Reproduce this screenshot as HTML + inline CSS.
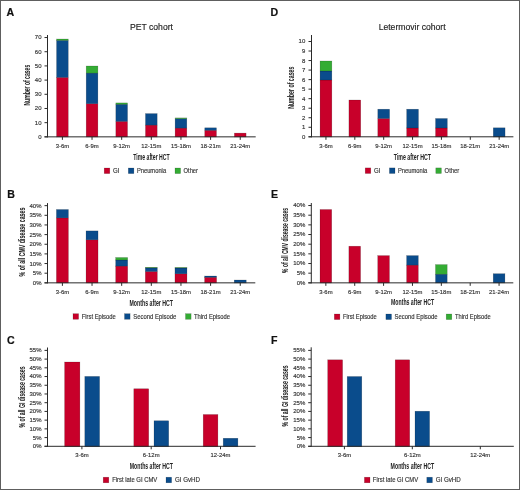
<!DOCTYPE html>
<html><head><meta charset="utf-8"><style>
html,body{margin:0;padding:0;background:#fff;}
body{width:520px;height:490px;overflow:hidden;}
svg{display:block;}
#w{will-change:transform;width:520px;height:490px;}
text{font-family:"Liberation Sans",sans-serif;}
</style></head><body>
<div id="w"><svg width="520" height="490" viewBox="0 0 520 490">
<rect x="0" y="0" width="520" height="490" fill="#fff"/>
<text x="6.6" y="15.8" font-size="10.6" text-anchor="start" fill="#111" font-weight="bold" stroke="#111" stroke-width="0.2">A</text>
<text x="270.4" y="15.9" font-size="10.6" text-anchor="start" fill="#111" font-weight="bold" stroke="#111" stroke-width="0.2">D</text>
<text x="7.2" y="197.9" font-size="10.6" text-anchor="start" fill="#111" font-weight="bold" stroke="#111" stroke-width="0.2">B</text>
<text x="271" y="198.0" font-size="10.6" text-anchor="start" fill="#111" font-weight="bold" stroke="#111" stroke-width="0.2">E</text>
<text x="6.9" y="343.8" font-size="10.6" text-anchor="start" fill="#111" font-weight="bold" stroke="#111" stroke-width="0.2">C</text>
<text x="271.1" y="343.8" font-size="10.6" text-anchor="start" fill="#111" font-weight="bold" stroke="#111" stroke-width="0.2">F</text>
<text x="151.5" y="29.7" font-size="8.7" text-anchor="middle" fill="#222" font-weight="normal" textLength="43" lengthAdjust="spacingAndGlyphs" stroke="#222" stroke-width="0.15">PET cohort</text>
<text x="41.5" y="138.79999999999998" font-size="6.0" text-anchor="end" fill="#333" font-weight="normal" stroke="#333" stroke-width="0.15">0</text>
<text x="41.5" y="124.613" font-size="6.0" text-anchor="end" fill="#333" font-weight="normal" stroke="#333" stroke-width="0.15">10</text>
<text x="41.5" y="110.426" font-size="6.0" text-anchor="end" fill="#333" font-weight="normal" stroke="#333" stroke-width="0.15">20</text>
<text x="41.5" y="96.23899999999999" font-size="6.0" text-anchor="end" fill="#333" font-weight="normal" stroke="#333" stroke-width="0.15">30</text>
<text x="41.5" y="82.05199999999999" font-size="6.0" text-anchor="end" fill="#333" font-weight="normal" stroke="#333" stroke-width="0.15">40</text>
<text x="41.5" y="67.865" font-size="6.0" text-anchor="end" fill="#333" font-weight="normal" stroke="#333" stroke-width="0.15">50</text>
<text x="41.5" y="53.678" font-size="6.0" text-anchor="end" fill="#333" font-weight="normal" stroke="#333" stroke-width="0.15">60</text>
<text x="41.5" y="39.490999999999985" font-size="6.0" text-anchor="end" fill="#333" font-weight="normal" stroke="#333" stroke-width="0.15">70</text>
<text x="62.4" y="148.1" font-size="5.9" text-anchor="middle" fill="#333" font-weight="normal" stroke="#333" stroke-width="0.15">3-6m</text>
<text x="92.03999999999999" y="148.1" font-size="5.9" text-anchor="middle" fill="#333" font-weight="normal" stroke="#333" stroke-width="0.15">6-9m</text>
<text x="121.68" y="148.1" font-size="5.9" text-anchor="middle" fill="#333" font-weight="normal" stroke="#333" stroke-width="0.15">9-12m</text>
<text x="151.32" y="148.1" font-size="5.9" text-anchor="middle" fill="#333" font-weight="normal" stroke="#333" stroke-width="0.15">12-15m</text>
<text x="180.96" y="148.1" font-size="5.9" text-anchor="middle" fill="#333" font-weight="normal" stroke="#333" stroke-width="0.15">15-18m</text>
<text x="210.6" y="148.1" font-size="5.9" text-anchor="middle" fill="#333" font-weight="normal" stroke="#333" stroke-width="0.15">18-21m</text>
<text x="240.24" y="148.1" font-size="5.9" text-anchor="middle" fill="#333" font-weight="normal" stroke="#333" stroke-width="0.15">21-24m</text>
<rect x="56.55" y="77.40" width="11.70" height="59.60" fill="#c8002a" stroke="#000" stroke-opacity="0.3" stroke-width="0.5"/>
<rect x="56.55" y="40.40" width="11.70" height="37.00" fill="#0a4c8c" stroke="#000" stroke-opacity="0.3" stroke-width="0.5"/>
<rect x="56.55" y="39.00" width="11.70" height="1.40" fill="#34ac34" stroke="#000" stroke-opacity="0.3" stroke-width="0.5"/>
<rect x="86.19" y="103.70" width="11.70" height="33.30" fill="#c8002a" stroke="#000" stroke-opacity="0.3" stroke-width="0.5"/>
<rect x="86.19" y="73.10" width="11.70" height="30.60" fill="#0a4c8c" stroke="#000" stroke-opacity="0.3" stroke-width="0.5"/>
<rect x="86.19" y="66.00" width="11.70" height="7.10" fill="#34ac34" stroke="#000" stroke-opacity="0.3" stroke-width="0.5"/>
<rect x="115.83" y="121.40" width="11.70" height="15.60" fill="#c8002a" stroke="#000" stroke-opacity="0.3" stroke-width="0.5"/>
<rect x="115.83" y="104.30" width="11.70" height="17.10" fill="#0a4c8c" stroke="#000" stroke-opacity="0.3" stroke-width="0.5"/>
<rect x="115.83" y="102.90" width="11.70" height="1.40" fill="#34ac34" stroke="#000" stroke-opacity="0.3" stroke-width="0.5"/>
<rect x="145.47" y="125.10" width="11.70" height="11.90" fill="#c8002a" stroke="#000" stroke-opacity="0.3" stroke-width="0.5"/>
<rect x="145.47" y="113.60" width="11.70" height="11.50" fill="#0a4c8c" stroke="#000" stroke-opacity="0.3" stroke-width="0.5"/>
<rect x="175.11" y="128.10" width="11.70" height="8.90" fill="#c8002a" stroke="#000" stroke-opacity="0.3" stroke-width="0.5"/>
<rect x="175.11" y="118.70" width="11.70" height="9.40" fill="#0a4c8c" stroke="#000" stroke-opacity="0.3" stroke-width="0.5"/>
<rect x="175.11" y="117.90" width="11.70" height="0.80" fill="#34ac34" stroke="#000" stroke-opacity="0.3" stroke-width="0.5"/>
<rect x="204.75" y="130.30" width="11.70" height="6.70" fill="#c8002a" stroke="#000" stroke-opacity="0.3" stroke-width="0.5"/>
<rect x="204.75" y="127.80" width="11.70" height="2.50" fill="#0a4c8c" stroke="#000" stroke-opacity="0.3" stroke-width="0.5"/>
<rect x="234.39" y="133.10" width="11.70" height="3.90" fill="#c8002a" stroke="#000" stroke-opacity="0.3" stroke-width="0.5"/>
<text transform="translate(29.7,85.2) rotate(-90)" x="0" y="0" font-size="8.6" text-anchor="middle" fill="#222" font-weight="bold" textLength="40.8" lengthAdjust="spacingAndGlyphs" stroke="#222" stroke-width="0.05">Number of cases</text>
<text x="151.45" y="159.6" font-size="8.3" text-anchor="middle" fill="#222" font-weight="bold" textLength="36.5" lengthAdjust="spacingAndGlyphs">Time after HCT</text>
<rect x="104.20" y="168.00" width="5.60" height="5.60" fill="#c8002a" stroke="#000" stroke-opacity="0.3" stroke-width="0.5"/>
<text x="113.0" y="173.2" font-size="6.5" text-anchor="start" fill="#333" font-weight="normal" textLength="6.4" lengthAdjust="spacingAndGlyphs" stroke="#333" stroke-width="0.15">GI</text>
<rect x="128.30" y="168.00" width="5.60" height="5.60" fill="#0a4c8c" stroke="#000" stroke-opacity="0.3" stroke-width="0.5"/>
<text x="136.9" y="173.2" font-size="6.5" text-anchor="start" fill="#333" font-weight="normal" textLength="29.2" lengthAdjust="spacingAndGlyphs" stroke="#333" stroke-width="0.15">Pneumonia</text>
<rect x="175.00" y="168.00" width="5.60" height="5.60" fill="#34ac34" stroke="#000" stroke-opacity="0.3" stroke-width="0.5"/>
<text x="183.6" y="173.2" font-size="6.5" text-anchor="start" fill="#333" font-weight="normal" textLength="14.4" lengthAdjust="spacingAndGlyphs" stroke="#333" stroke-width="0.15">Other</text>
<text x="412.15" y="29.8" font-size="8.7" text-anchor="middle" fill="#222" font-weight="normal" textLength="67" lengthAdjust="spacingAndGlyphs" stroke="#222" stroke-width="0.15">Letermovir cohort</text>
<text x="305.3" y="138.75" font-size="6.0" text-anchor="end" fill="#333" font-weight="normal" stroke="#333" stroke-width="0.15">0</text>
<text x="305.3" y="129.22" font-size="6.0" text-anchor="end" fill="#333" font-weight="normal" stroke="#333" stroke-width="0.15">1</text>
<text x="305.3" y="119.69000000000001" font-size="6.0" text-anchor="end" fill="#333" font-weight="normal" stroke="#333" stroke-width="0.15">2</text>
<text x="305.3" y="110.16000000000001" font-size="6.0" text-anchor="end" fill="#333" font-weight="normal" stroke="#333" stroke-width="0.15">3</text>
<text x="305.3" y="100.63000000000001" font-size="6.0" text-anchor="end" fill="#333" font-weight="normal" stroke="#333" stroke-width="0.15">4</text>
<text x="305.3" y="91.10000000000001" font-size="6.0" text-anchor="end" fill="#333" font-weight="normal" stroke="#333" stroke-width="0.15">5</text>
<text x="305.3" y="81.57000000000002" font-size="6.0" text-anchor="end" fill="#333" font-weight="normal" stroke="#333" stroke-width="0.15">6</text>
<text x="305.3" y="72.04000000000002" font-size="6.0" text-anchor="end" fill="#333" font-weight="normal" stroke="#333" stroke-width="0.15">7</text>
<text x="305.3" y="62.51000000000002" font-size="6.0" text-anchor="end" fill="#333" font-weight="normal" stroke="#333" stroke-width="0.15">8</text>
<text x="305.3" y="52.98000000000002" font-size="6.0" text-anchor="end" fill="#333" font-weight="normal" stroke="#333" stroke-width="0.15">9</text>
<text x="305.3" y="43.45000000000002" font-size="6.0" text-anchor="end" fill="#333" font-weight="normal" stroke="#333" stroke-width="0.15">10</text>
<text x="325.95" y="148.1" font-size="5.9" text-anchor="middle" fill="#333" font-weight="normal" stroke="#333" stroke-width="0.15">3-6m</text>
<text x="354.82" y="148.1" font-size="5.9" text-anchor="middle" fill="#333" font-weight="normal" stroke="#333" stroke-width="0.15">6-9m</text>
<text x="383.69" y="148.1" font-size="5.9" text-anchor="middle" fill="#333" font-weight="normal" stroke="#333" stroke-width="0.15">9-12m</text>
<text x="412.56" y="148.1" font-size="5.9" text-anchor="middle" fill="#333" font-weight="normal" stroke="#333" stroke-width="0.15">12-15m</text>
<text x="441.43" y="148.1" font-size="5.9" text-anchor="middle" fill="#333" font-weight="normal" stroke="#333" stroke-width="0.15">15-18m</text>
<text x="470.29999999999995" y="148.1" font-size="5.9" text-anchor="middle" fill="#333" font-weight="normal" stroke="#333" stroke-width="0.15">18-21m</text>
<text x="499.16999999999996" y="148.1" font-size="5.9" text-anchor="middle" fill="#333" font-weight="normal" stroke="#333" stroke-width="0.15">21-24m</text>
<rect x="320.05" y="80.00" width="11.80" height="57.00" fill="#c8002a" stroke="#000" stroke-opacity="0.3" stroke-width="0.5"/>
<rect x="320.05" y="71.00" width="11.80" height="9.00" fill="#0a4c8c" stroke="#000" stroke-opacity="0.3" stroke-width="0.5"/>
<rect x="320.05" y="61.00" width="11.80" height="10.00" fill="#34ac34" stroke="#000" stroke-opacity="0.3" stroke-width="0.5"/>
<rect x="348.92" y="100.00" width="11.80" height="37.00" fill="#c8002a" stroke="#000" stroke-opacity="0.3" stroke-width="0.5"/>
<rect x="377.79" y="118.50" width="11.80" height="18.50" fill="#c8002a" stroke="#000" stroke-opacity="0.3" stroke-width="0.5"/>
<rect x="377.79" y="109.20" width="11.80" height="9.30" fill="#0a4c8c" stroke="#000" stroke-opacity="0.3" stroke-width="0.5"/>
<rect x="406.66" y="128.00" width="11.80" height="9.00" fill="#c8002a" stroke="#000" stroke-opacity="0.3" stroke-width="0.5"/>
<rect x="406.66" y="109.20" width="11.80" height="18.80" fill="#0a4c8c" stroke="#000" stroke-opacity="0.3" stroke-width="0.5"/>
<rect x="435.53" y="128.00" width="11.80" height="9.00" fill="#c8002a" stroke="#000" stroke-opacity="0.3" stroke-width="0.5"/>
<rect x="435.53" y="118.50" width="11.80" height="9.50" fill="#0a4c8c" stroke="#000" stroke-opacity="0.3" stroke-width="0.5"/>
<rect x="493.27" y="127.80" width="11.80" height="9.20" fill="#0a4c8c" stroke="#000" stroke-opacity="0.3" stroke-width="0.5"/>
<text transform="translate(293.7,87.7) rotate(-90)" x="0" y="0" font-size="8.6" text-anchor="middle" fill="#222" font-weight="bold" textLength="42.3" lengthAdjust="spacingAndGlyphs" stroke="#222" stroke-width="0.05">Number of cases</text>
<text x="412.35" y="159.7" font-size="8.3" text-anchor="middle" fill="#222" font-weight="bold" textLength="37.1" lengthAdjust="spacingAndGlyphs">Time after HCT</text>
<rect x="365.20" y="167.90" width="5.60" height="5.60" fill="#c8002a" stroke="#000" stroke-opacity="0.3" stroke-width="0.5"/>
<text x="374.1" y="173.3" font-size="6.5" text-anchor="start" fill="#333" font-weight="normal" textLength="6.4" lengthAdjust="spacingAndGlyphs" stroke="#333" stroke-width="0.15">GI</text>
<rect x="389.40" y="167.90" width="5.60" height="5.60" fill="#0a4c8c" stroke="#000" stroke-opacity="0.3" stroke-width="0.5"/>
<text x="398.0" y="173.3" font-size="6.5" text-anchor="start" fill="#333" font-weight="normal" textLength="29.2" lengthAdjust="spacingAndGlyphs" stroke="#333" stroke-width="0.15">Pneumonia</text>
<rect x="435.80" y="167.90" width="5.60" height="5.60" fill="#34ac34" stroke="#000" stroke-opacity="0.3" stroke-width="0.5"/>
<text x="444.6" y="173.3" font-size="6.5" text-anchor="start" fill="#333" font-weight="normal" textLength="14.6" lengthAdjust="spacingAndGlyphs" stroke="#333" stroke-width="0.15">Other</text>
<text x="41.5" y="284.8" font-size="6.0" text-anchor="end" fill="#333" font-weight="normal" stroke="#333" stroke-width="0.15">0%</text>
<text x="41.5" y="275.15000000000003" font-size="6.0" text-anchor="end" fill="#333" font-weight="normal" stroke="#333" stroke-width="0.15">5%</text>
<text x="41.5" y="265.5" font-size="6.0" text-anchor="end" fill="#333" font-weight="normal" stroke="#333" stroke-width="0.15">10%</text>
<text x="41.5" y="255.85000000000002" font-size="6.0" text-anchor="end" fill="#333" font-weight="normal" stroke="#333" stroke-width="0.15">15%</text>
<text x="41.5" y="246.20000000000002" font-size="6.0" text-anchor="end" fill="#333" font-weight="normal" stroke="#333" stroke-width="0.15">20%</text>
<text x="41.5" y="236.55" font-size="6.0" text-anchor="end" fill="#333" font-weight="normal" stroke="#333" stroke-width="0.15">25%</text>
<text x="41.5" y="226.9" font-size="6.0" text-anchor="end" fill="#333" font-weight="normal" stroke="#333" stroke-width="0.15">30%</text>
<text x="41.5" y="217.25" font-size="6.0" text-anchor="end" fill="#333" font-weight="normal" stroke="#333" stroke-width="0.15">35%</text>
<text x="41.5" y="207.60000000000002" font-size="6.0" text-anchor="end" fill="#333" font-weight="normal" stroke="#333" stroke-width="0.15">40%</text>
<text x="62.4" y="294.4" font-size="5.9" text-anchor="middle" fill="#333" font-weight="normal" stroke="#333" stroke-width="0.15">3-6m</text>
<text x="92.03999999999999" y="294.4" font-size="5.9" text-anchor="middle" fill="#333" font-weight="normal" stroke="#333" stroke-width="0.15">6-9m</text>
<text x="121.68" y="294.4" font-size="5.9" text-anchor="middle" fill="#333" font-weight="normal" stroke="#333" stroke-width="0.15">9-12m</text>
<text x="151.32" y="294.4" font-size="5.9" text-anchor="middle" fill="#333" font-weight="normal" stroke="#333" stroke-width="0.15">12-15m</text>
<text x="180.96" y="294.4" font-size="5.9" text-anchor="middle" fill="#333" font-weight="normal" stroke="#333" stroke-width="0.15">15-18m</text>
<text x="210.6" y="294.4" font-size="5.9" text-anchor="middle" fill="#333" font-weight="normal" stroke="#333" stroke-width="0.15">18-21m</text>
<text x="240.24" y="294.4" font-size="5.9" text-anchor="middle" fill="#333" font-weight="normal" stroke="#333" stroke-width="0.15">21-24m</text>
<rect x="56.40" y="217.90" width="12.00" height="65.10" fill="#c8002a" stroke="#000" stroke-opacity="0.3" stroke-width="0.5"/>
<rect x="56.40" y="209.50" width="12.00" height="8.40" fill="#0a4c8c" stroke="#000" stroke-opacity="0.3" stroke-width="0.5"/>
<rect x="86.04" y="239.80" width="12.00" height="43.20" fill="#c8002a" stroke="#000" stroke-opacity="0.3" stroke-width="0.5"/>
<rect x="86.04" y="230.90" width="12.00" height="8.90" fill="#0a4c8c" stroke="#000" stroke-opacity="0.3" stroke-width="0.5"/>
<rect x="115.68" y="266.10" width="12.00" height="16.90" fill="#c8002a" stroke="#000" stroke-opacity="0.3" stroke-width="0.5"/>
<rect x="115.68" y="260.00" width="12.00" height="6.10" fill="#0a4c8c" stroke="#000" stroke-opacity="0.3" stroke-width="0.5"/>
<rect x="115.68" y="257.50" width="12.00" height="2.50" fill="#34ac34" stroke="#000" stroke-opacity="0.3" stroke-width="0.5"/>
<rect x="145.32" y="271.50" width="12.00" height="11.50" fill="#c8002a" stroke="#000" stroke-opacity="0.3" stroke-width="0.5"/>
<rect x="145.32" y="267.90" width="12.00" height="3.60" fill="#0a4c8c" stroke="#000" stroke-opacity="0.3" stroke-width="0.5"/>
<rect x="145.32" y="267.30" width="12.00" height="0.60" fill="#34ac34" stroke="#000" stroke-opacity="0.3" stroke-width="0.5"/>
<rect x="174.96" y="273.80" width="12.00" height="9.20" fill="#c8002a" stroke="#000" stroke-opacity="0.3" stroke-width="0.5"/>
<rect x="174.96" y="268.00" width="12.00" height="5.80" fill="#0a4c8c" stroke="#000" stroke-opacity="0.3" stroke-width="0.5"/>
<rect x="174.96" y="267.50" width="12.00" height="0.50" fill="#34ac34" stroke="#000" stroke-opacity="0.3" stroke-width="0.5"/>
<rect x="204.60" y="277.30" width="12.00" height="5.70" fill="#c8002a" stroke="#000" stroke-opacity="0.3" stroke-width="0.5"/>
<rect x="204.60" y="276.00" width="12.00" height="1.30" fill="#0a4c8c" stroke="#000" stroke-opacity="0.3" stroke-width="0.5"/>
<rect x="234.24" y="280.00" width="12.00" height="3.00" fill="#0a4c8c" stroke="#000" stroke-opacity="0.3" stroke-width="0.5"/>
<text transform="translate(24.7,242.0) rotate(-90)" x="0" y="0" font-size="8.3" text-anchor="middle" fill="#222" font-weight="bold" textLength="68.8" lengthAdjust="spacingAndGlyphs" stroke="#222" stroke-width="0.05">% of all CMV disease cases</text>
<text x="151.25" y="305.5" font-size="8.3" text-anchor="middle" fill="#222" font-weight="bold" textLength="43.5" lengthAdjust="spacingAndGlyphs">Months after HCT</text>
<rect x="73.00" y="313.70" width="5.60" height="5.60" fill="#c8002a" stroke="#000" stroke-opacity="0.3" stroke-width="0.5"/>
<text x="81.7" y="319.0" font-size="6.5" text-anchor="start" fill="#333" font-weight="normal" textLength="34.1" lengthAdjust="spacingAndGlyphs" stroke="#333" stroke-width="0.15">First Episode</text>
<rect x="124.50" y="313.70" width="5.60" height="5.60" fill="#0a4c8c" stroke="#000" stroke-opacity="0.3" stroke-width="0.5"/>
<text x="133.3" y="319.0" font-size="6.5" text-anchor="start" fill="#333" font-weight="normal" textLength="43.0" lengthAdjust="spacingAndGlyphs" stroke="#333" stroke-width="0.15">Second Episode</text>
<rect x="185.50" y="313.70" width="5.60" height="5.60" fill="#34ac34" stroke="#000" stroke-opacity="0.3" stroke-width="0.5"/>
<text x="194.0" y="319.0" font-size="6.5" text-anchor="start" fill="#333" font-weight="normal" textLength="36.0" lengthAdjust="spacingAndGlyphs" stroke="#333" stroke-width="0.15">Third Episode</text>
<text x="305.3" y="284.8" font-size="6.0" text-anchor="end" fill="#333" font-weight="normal" stroke="#333" stroke-width="0.15">0%</text>
<text x="305.3" y="275.135" font-size="6.0" text-anchor="end" fill="#333" font-weight="normal" stroke="#333" stroke-width="0.15">5%</text>
<text x="305.3" y="265.47" font-size="6.0" text-anchor="end" fill="#333" font-weight="normal" stroke="#333" stroke-width="0.15">10%</text>
<text x="305.3" y="255.805" font-size="6.0" text-anchor="end" fill="#333" font-weight="normal" stroke="#333" stroke-width="0.15">15%</text>
<text x="305.3" y="246.14000000000001" font-size="6.0" text-anchor="end" fill="#333" font-weight="normal" stroke="#333" stroke-width="0.15">20%</text>
<text x="305.3" y="236.47500000000002" font-size="6.0" text-anchor="end" fill="#333" font-weight="normal" stroke="#333" stroke-width="0.15">25%</text>
<text x="305.3" y="226.81" font-size="6.0" text-anchor="end" fill="#333" font-weight="normal" stroke="#333" stroke-width="0.15">30%</text>
<text x="305.3" y="217.145" font-size="6.0" text-anchor="end" fill="#333" font-weight="normal" stroke="#333" stroke-width="0.15">35%</text>
<text x="305.3" y="207.48000000000002" font-size="6.0" text-anchor="end" fill="#333" font-weight="normal" stroke="#333" stroke-width="0.15">40%</text>
<text x="325.85" y="294.4" font-size="5.9" text-anchor="middle" fill="#333" font-weight="normal" stroke="#333" stroke-width="0.15">3-6m</text>
<text x="354.72" y="294.4" font-size="5.9" text-anchor="middle" fill="#333" font-weight="normal" stroke="#333" stroke-width="0.15">6-9m</text>
<text x="383.59000000000003" y="294.4" font-size="5.9" text-anchor="middle" fill="#333" font-weight="normal" stroke="#333" stroke-width="0.15">9-12m</text>
<text x="412.46000000000004" y="294.4" font-size="5.9" text-anchor="middle" fill="#333" font-weight="normal" stroke="#333" stroke-width="0.15">12-15m</text>
<text x="441.33000000000004" y="294.4" font-size="5.9" text-anchor="middle" fill="#333" font-weight="normal" stroke="#333" stroke-width="0.15">15-18m</text>
<text x="470.20000000000005" y="294.4" font-size="5.9" text-anchor="middle" fill="#333" font-weight="normal" stroke="#333" stroke-width="0.15">18-21m</text>
<text x="499.07000000000005" y="294.4" font-size="5.9" text-anchor="middle" fill="#333" font-weight="normal" stroke="#333" stroke-width="0.15">21-24m</text>
<rect x="320.00" y="209.50" width="11.70" height="73.50" fill="#c8002a" stroke="#000" stroke-opacity="0.3" stroke-width="0.5"/>
<rect x="348.87" y="246.20" width="11.70" height="36.80" fill="#c8002a" stroke="#000" stroke-opacity="0.3" stroke-width="0.5"/>
<rect x="377.74" y="255.60" width="11.70" height="27.40" fill="#c8002a" stroke="#000" stroke-opacity="0.3" stroke-width="0.5"/>
<rect x="406.61" y="265.10" width="11.70" height="17.90" fill="#c8002a" stroke="#000" stroke-opacity="0.3" stroke-width="0.5"/>
<rect x="406.61" y="255.60" width="11.70" height="9.50" fill="#0a4c8c" stroke="#000" stroke-opacity="0.3" stroke-width="0.5"/>
<rect x="435.48" y="274.20" width="11.70" height="8.80" fill="#0a4c8c" stroke="#000" stroke-opacity="0.3" stroke-width="0.5"/>
<rect x="435.48" y="264.60" width="11.70" height="9.60" fill="#34ac34" stroke="#000" stroke-opacity="0.3" stroke-width="0.5"/>
<rect x="493.22" y="273.70" width="11.70" height="9.30" fill="#0a4c8c" stroke="#000" stroke-opacity="0.3" stroke-width="0.5"/>
<text transform="translate(288.0,240.4) rotate(-90)" x="0" y="0" font-size="8.3" text-anchor="middle" fill="#222" font-weight="bold" textLength="65.1" lengthAdjust="spacingAndGlyphs" stroke="#222" stroke-width="0.05">% of all CMV disease cases</text>
<text x="412.6" y="305.4" font-size="8.3" text-anchor="middle" fill="#222" font-weight="bold" textLength="43.2" lengthAdjust="spacingAndGlyphs">Months after HCT</text>
<rect x="334.30" y="314.00" width="5.60" height="5.60" fill="#c8002a" stroke="#000" stroke-opacity="0.3" stroke-width="0.5"/>
<text x="343.0" y="319.2" font-size="6.5" text-anchor="start" fill="#333" font-weight="normal" textLength="33.7" lengthAdjust="spacingAndGlyphs" stroke="#333" stroke-width="0.15">First Episode</text>
<rect x="385.90" y="314.00" width="5.60" height="5.60" fill="#0a4c8c" stroke="#000" stroke-opacity="0.3" stroke-width="0.5"/>
<text x="394.6" y="319.2" font-size="6.5" text-anchor="start" fill="#333" font-weight="normal" textLength="43.0" lengthAdjust="spacingAndGlyphs" stroke="#333" stroke-width="0.15">Second Episode</text>
<rect x="446.20" y="314.00" width="5.60" height="5.60" fill="#34ac34" stroke="#000" stroke-opacity="0.3" stroke-width="0.5"/>
<text x="455.1" y="319.2" font-size="6.5" text-anchor="start" fill="#333" font-weight="normal" textLength="35.5" lengthAdjust="spacingAndGlyphs" stroke="#333" stroke-width="0.15">Third Episode</text>
<text x="41.5" y="448.25" font-size="6.0" text-anchor="end" fill="#333" font-weight="normal" stroke="#333" stroke-width="0.15">0%</text>
<text x="41.5" y="439.53" font-size="6.0" text-anchor="end" fill="#333" font-weight="normal" stroke="#333" stroke-width="0.15">5%</text>
<text x="41.5" y="430.81" font-size="6.0" text-anchor="end" fill="#333" font-weight="normal" stroke="#333" stroke-width="0.15">10%</text>
<text x="41.5" y="422.09" font-size="6.0" text-anchor="end" fill="#333" font-weight="normal" stroke="#333" stroke-width="0.15">15%</text>
<text x="41.5" y="413.37" font-size="6.0" text-anchor="end" fill="#333" font-weight="normal" stroke="#333" stroke-width="0.15">20%</text>
<text x="41.5" y="404.65" font-size="6.0" text-anchor="end" fill="#333" font-weight="normal" stroke="#333" stroke-width="0.15">25%</text>
<text x="41.5" y="395.93" font-size="6.0" text-anchor="end" fill="#333" font-weight="normal" stroke="#333" stroke-width="0.15">30%</text>
<text x="41.5" y="387.21" font-size="6.0" text-anchor="end" fill="#333" font-weight="normal" stroke="#333" stroke-width="0.15">35%</text>
<text x="41.5" y="378.49" font-size="6.0" text-anchor="end" fill="#333" font-weight="normal" stroke="#333" stroke-width="0.15">40%</text>
<text x="41.5" y="369.77" font-size="6.0" text-anchor="end" fill="#333" font-weight="normal" stroke="#333" stroke-width="0.15">45%</text>
<text x="41.5" y="361.05" font-size="6.0" text-anchor="end" fill="#333" font-weight="normal" stroke="#333" stroke-width="0.15">50%</text>
<text x="41.5" y="352.33" font-size="6.0" text-anchor="end" fill="#333" font-weight="normal" stroke="#333" stroke-width="0.15">55%</text>
<text x="81.9" y="457.4" font-size="5.9" text-anchor="middle" fill="#333" font-weight="normal" stroke="#333" stroke-width="0.15">3-6m</text>
<text x="151.2" y="457.4" font-size="5.9" text-anchor="middle" fill="#333" font-weight="normal" stroke="#333" stroke-width="0.15">6-12m</text>
<text x="220.5" y="457.4" font-size="5.9" text-anchor="middle" fill="#333" font-weight="normal" stroke="#333" stroke-width="0.15">12-24m</text>
<rect x="64.60" y="362.00" width="15.30" height="84.80" fill="#c8002a" stroke="#000" stroke-opacity="0.3" stroke-width="0.5"/>
<rect x="84.80" y="376.40" width="14.80" height="70.40" fill="#0a4c8c" stroke="#000" stroke-opacity="0.3" stroke-width="0.5"/>
<rect x="133.80" y="388.75" width="14.90" height="58.05" fill="#c8002a" stroke="#000" stroke-opacity="0.3" stroke-width="0.5"/>
<rect x="154.00" y="420.75" width="14.70" height="26.05" fill="#0a4c8c" stroke="#000" stroke-opacity="0.3" stroke-width="0.5"/>
<rect x="203.20" y="414.50" width="14.70" height="32.30" fill="#c8002a" stroke="#000" stroke-opacity="0.3" stroke-width="0.5"/>
<rect x="223.20" y="438.25" width="14.70" height="8.55" fill="#0a4c8c" stroke="#000" stroke-opacity="0.3" stroke-width="0.5"/>
<text transform="translate(24.6,397.0) rotate(-90)" x="0" y="0" font-size="8.3" text-anchor="middle" fill="#222" font-weight="bold" textLength="61.1" lengthAdjust="spacingAndGlyphs" stroke="#222" stroke-width="0.05">% of all GI disease cases</text>
<text x="151.35" y="469.4" font-size="8.3" text-anchor="middle" fill="#222" font-weight="bold" textLength="43.1" lengthAdjust="spacingAndGlyphs">Months after HCT</text>
<rect x="103.20" y="477.20" width="5.60" height="5.60" fill="#c8002a" stroke="#000" stroke-opacity="0.3" stroke-width="0.5"/>
<text x="112.2" y="482.0" font-size="6.5" text-anchor="start" fill="#333" font-weight="normal" textLength="45.1" lengthAdjust="spacingAndGlyphs" stroke="#333" stroke-width="0.15">First late GI CMV</text>
<rect x="166.00" y="477.20" width="5.60" height="5.60" fill="#0a4c8c" stroke="#000" stroke-opacity="0.3" stroke-width="0.5"/>
<text x="175.0" y="482.0" font-size="6.5" text-anchor="start" fill="#333" font-weight="normal" textLength="25.0" lengthAdjust="spacingAndGlyphs" stroke="#333" stroke-width="0.15">GI GvHD</text>
<text x="305.3" y="448.25" font-size="6.0" text-anchor="end" fill="#333" font-weight="normal" stroke="#333" stroke-width="0.15">0%</text>
<text x="305.3" y="439.53" font-size="6.0" text-anchor="end" fill="#333" font-weight="normal" stroke="#333" stroke-width="0.15">5%</text>
<text x="305.3" y="430.81" font-size="6.0" text-anchor="end" fill="#333" font-weight="normal" stroke="#333" stroke-width="0.15">10%</text>
<text x="305.3" y="422.09" font-size="6.0" text-anchor="end" fill="#333" font-weight="normal" stroke="#333" stroke-width="0.15">15%</text>
<text x="305.3" y="413.37" font-size="6.0" text-anchor="end" fill="#333" font-weight="normal" stroke="#333" stroke-width="0.15">20%</text>
<text x="305.3" y="404.65" font-size="6.0" text-anchor="end" fill="#333" font-weight="normal" stroke="#333" stroke-width="0.15">25%</text>
<text x="305.3" y="395.93" font-size="6.0" text-anchor="end" fill="#333" font-weight="normal" stroke="#333" stroke-width="0.15">30%</text>
<text x="305.3" y="387.21" font-size="6.0" text-anchor="end" fill="#333" font-weight="normal" stroke="#333" stroke-width="0.15">35%</text>
<text x="305.3" y="378.49" font-size="6.0" text-anchor="end" fill="#333" font-weight="normal" stroke="#333" stroke-width="0.15">40%</text>
<text x="305.3" y="369.77" font-size="6.0" text-anchor="end" fill="#333" font-weight="normal" stroke="#333" stroke-width="0.15">45%</text>
<text x="305.3" y="361.05" font-size="6.0" text-anchor="end" fill="#333" font-weight="normal" stroke="#333" stroke-width="0.15">50%</text>
<text x="305.3" y="352.33" font-size="6.0" text-anchor="end" fill="#333" font-weight="normal" stroke="#333" stroke-width="0.15">55%</text>
<text x="344.4" y="457.4" font-size="5.9" text-anchor="middle" fill="#333" font-weight="normal" stroke="#333" stroke-width="0.15">3-6m</text>
<text x="412.3" y="457.4" font-size="5.9" text-anchor="middle" fill="#333" font-weight="normal" stroke="#333" stroke-width="0.15">6-12m</text>
<text x="480.3" y="457.4" font-size="5.9" text-anchor="middle" fill="#333" font-weight="normal" stroke="#333" stroke-width="0.15">12-24m</text>
<rect x="327.70" y="359.80" width="14.90" height="87.00" fill="#c8002a" stroke="#000" stroke-opacity="0.3" stroke-width="0.5"/>
<rect x="347.20" y="376.50" width="14.60" height="70.30" fill="#0a4c8c" stroke="#000" stroke-opacity="0.3" stroke-width="0.5"/>
<rect x="395.20" y="359.80" width="14.50" height="87.00" fill="#c8002a" stroke="#000" stroke-opacity="0.3" stroke-width="0.5"/>
<rect x="415.00" y="411.20" width="14.60" height="35.60" fill="#0a4c8c" stroke="#000" stroke-opacity="0.3" stroke-width="0.5"/>
<text transform="translate(288.0,396.0) rotate(-90)" x="0" y="0" font-size="8.3" text-anchor="middle" fill="#222" font-weight="bold" textLength="61.1" lengthAdjust="spacingAndGlyphs" stroke="#222" stroke-width="0.05">% of all GI disease cases</text>
<text x="412.4" y="469.4" font-size="8.3" text-anchor="middle" fill="#222" font-weight="bold" textLength="43.6" lengthAdjust="spacingAndGlyphs">Months after HCT</text>
<rect x="364.40" y="477.20" width="5.60" height="5.60" fill="#c8002a" stroke="#000" stroke-opacity="0.3" stroke-width="0.5"/>
<text x="372.8" y="482.0" font-size="6.5" text-anchor="start" fill="#333" font-weight="normal" textLength="45.3" lengthAdjust="spacingAndGlyphs" stroke="#333" stroke-width="0.15">First late GI CMV</text>
<rect x="426.80" y="477.20" width="5.60" height="5.60" fill="#0a4c8c" stroke="#000" stroke-opacity="0.3" stroke-width="0.5"/>
<text x="435.7" y="482.0" font-size="6.5" text-anchor="start" fill="#333" font-weight="normal" textLength="25.0" lengthAdjust="spacingAndGlyphs" stroke="#333" stroke-width="0.15">GI GvHD</text>
<line x1="47.5" y1="35" x2="47.5" y2="137.35" stroke="#2a2a2a" stroke-width="1"/>
<line x1="44.5" y1="136.85" x2="47.5" y2="136.85" stroke="#2a2a2a" stroke-width="1"/>
<line x1="44.5" y1="122.663" x2="47.5" y2="122.663" stroke="#2a2a2a" stroke-width="1"/>
<line x1="44.5" y1="108.476" x2="47.5" y2="108.476" stroke="#2a2a2a" stroke-width="1"/>
<line x1="44.5" y1="94.28899999999999" x2="47.5" y2="94.28899999999999" stroke="#2a2a2a" stroke-width="1"/>
<line x1="44.5" y1="80.10199999999999" x2="47.5" y2="80.10199999999999" stroke="#2a2a2a" stroke-width="1"/>
<line x1="44.5" y1="65.91499999999999" x2="47.5" y2="65.91499999999999" stroke="#2a2a2a" stroke-width="1"/>
<line x1="44.5" y1="51.727999999999994" x2="47.5" y2="51.727999999999994" stroke="#2a2a2a" stroke-width="1"/>
<line x1="44.5" y1="37.54099999999998" x2="47.5" y2="37.54099999999998" stroke="#2a2a2a" stroke-width="1"/>
<line x1="44.5" y1="136.85" x2="255.7" y2="136.85" stroke="#2a2a2a" stroke-width="1"/>
<line x1="62.4" y1="136.85" x2="62.4" y2="139.85" stroke="#2a2a2a" stroke-width="1"/>
<line x1="92.03999999999999" y1="136.85" x2="92.03999999999999" y2="139.85" stroke="#2a2a2a" stroke-width="1"/>
<line x1="121.68" y1="136.85" x2="121.68" y2="139.85" stroke="#2a2a2a" stroke-width="1"/>
<line x1="151.32" y1="136.85" x2="151.32" y2="139.85" stroke="#2a2a2a" stroke-width="1"/>
<line x1="180.96" y1="136.85" x2="180.96" y2="139.85" stroke="#2a2a2a" stroke-width="1"/>
<line x1="210.6" y1="136.85" x2="210.6" y2="139.85" stroke="#2a2a2a" stroke-width="1"/>
<line x1="240.24" y1="136.85" x2="240.24" y2="139.85" stroke="#2a2a2a" stroke-width="1"/>
<line x1="311.5" y1="35" x2="311.5" y2="137.3" stroke="#2a2a2a" stroke-width="1"/>
<line x1="308.5" y1="136.8" x2="311.5" y2="136.8" stroke="#2a2a2a" stroke-width="1"/>
<line x1="308.5" y1="127.27000000000001" x2="311.5" y2="127.27000000000001" stroke="#2a2a2a" stroke-width="1"/>
<line x1="308.5" y1="117.74000000000001" x2="311.5" y2="117.74000000000001" stroke="#2a2a2a" stroke-width="1"/>
<line x1="308.5" y1="108.21000000000001" x2="311.5" y2="108.21000000000001" stroke="#2a2a2a" stroke-width="1"/>
<line x1="308.5" y1="98.68" x2="311.5" y2="98.68" stroke="#2a2a2a" stroke-width="1"/>
<line x1="308.5" y1="89.15" x2="311.5" y2="89.15" stroke="#2a2a2a" stroke-width="1"/>
<line x1="308.5" y1="79.62000000000002" x2="311.5" y2="79.62000000000002" stroke="#2a2a2a" stroke-width="1"/>
<line x1="308.5" y1="70.09000000000002" x2="311.5" y2="70.09000000000002" stroke="#2a2a2a" stroke-width="1"/>
<line x1="308.5" y1="60.56000000000002" x2="311.5" y2="60.56000000000002" stroke="#2a2a2a" stroke-width="1"/>
<line x1="308.5" y1="51.030000000000015" x2="311.5" y2="51.030000000000015" stroke="#2a2a2a" stroke-width="1"/>
<line x1="308.5" y1="41.500000000000014" x2="311.5" y2="41.500000000000014" stroke="#2a2a2a" stroke-width="1"/>
<line x1="308.5" y1="136.8" x2="513.4" y2="136.8" stroke="#2a2a2a" stroke-width="1"/>
<line x1="325.95" y1="136.8" x2="325.95" y2="139.8" stroke="#2a2a2a" stroke-width="1"/>
<line x1="354.82" y1="136.8" x2="354.82" y2="139.8" stroke="#2a2a2a" stroke-width="1"/>
<line x1="383.69" y1="136.8" x2="383.69" y2="139.8" stroke="#2a2a2a" stroke-width="1"/>
<line x1="412.56" y1="136.8" x2="412.56" y2="139.8" stroke="#2a2a2a" stroke-width="1"/>
<line x1="441.43" y1="136.8" x2="441.43" y2="139.8" stroke="#2a2a2a" stroke-width="1"/>
<line x1="470.29999999999995" y1="136.8" x2="470.29999999999995" y2="139.8" stroke="#2a2a2a" stroke-width="1"/>
<line x1="499.16999999999996" y1="136.8" x2="499.16999999999996" y2="139.8" stroke="#2a2a2a" stroke-width="1"/>
<line x1="47.5" y1="203.1" x2="47.5" y2="283.35" stroke="#2a2a2a" stroke-width="1"/>
<line x1="44.5" y1="282.85" x2="47.5" y2="282.85" stroke="#2a2a2a" stroke-width="1"/>
<line x1="44.5" y1="273.20000000000005" x2="47.5" y2="273.20000000000005" stroke="#2a2a2a" stroke-width="1"/>
<line x1="44.5" y1="263.55" x2="47.5" y2="263.55" stroke="#2a2a2a" stroke-width="1"/>
<line x1="44.5" y1="253.90000000000003" x2="47.5" y2="253.90000000000003" stroke="#2a2a2a" stroke-width="1"/>
<line x1="44.5" y1="244.25000000000003" x2="47.5" y2="244.25000000000003" stroke="#2a2a2a" stroke-width="1"/>
<line x1="44.5" y1="234.60000000000002" x2="47.5" y2="234.60000000000002" stroke="#2a2a2a" stroke-width="1"/>
<line x1="44.5" y1="224.95000000000002" x2="47.5" y2="224.95000000000002" stroke="#2a2a2a" stroke-width="1"/>
<line x1="44.5" y1="215.3" x2="47.5" y2="215.3" stroke="#2a2a2a" stroke-width="1"/>
<line x1="44.5" y1="205.65000000000003" x2="47.5" y2="205.65000000000003" stroke="#2a2a2a" stroke-width="1"/>
<line x1="44.5" y1="282.85" x2="255.3" y2="282.85" stroke="#2a2a2a" stroke-width="1"/>
<line x1="62.4" y1="282.85" x2="62.4" y2="285.85" stroke="#2a2a2a" stroke-width="1"/>
<line x1="92.03999999999999" y1="282.85" x2="92.03999999999999" y2="285.85" stroke="#2a2a2a" stroke-width="1"/>
<line x1="121.68" y1="282.85" x2="121.68" y2="285.85" stroke="#2a2a2a" stroke-width="1"/>
<line x1="151.32" y1="282.85" x2="151.32" y2="285.85" stroke="#2a2a2a" stroke-width="1"/>
<line x1="180.96" y1="282.85" x2="180.96" y2="285.85" stroke="#2a2a2a" stroke-width="1"/>
<line x1="210.6" y1="282.85" x2="210.6" y2="285.85" stroke="#2a2a2a" stroke-width="1"/>
<line x1="240.24" y1="282.85" x2="240.24" y2="285.85" stroke="#2a2a2a" stroke-width="1"/>
<line x1="311.3" y1="203" x2="311.3" y2="283.35" stroke="#2a2a2a" stroke-width="1"/>
<line x1="308.3" y1="282.85" x2="311.3" y2="282.85" stroke="#2a2a2a" stroke-width="1"/>
<line x1="308.3" y1="273.185" x2="311.3" y2="273.185" stroke="#2a2a2a" stroke-width="1"/>
<line x1="308.3" y1="263.52000000000004" x2="311.3" y2="263.52000000000004" stroke="#2a2a2a" stroke-width="1"/>
<line x1="308.3" y1="253.85500000000002" x2="311.3" y2="253.85500000000002" stroke="#2a2a2a" stroke-width="1"/>
<line x1="308.3" y1="244.19000000000003" x2="311.3" y2="244.19000000000003" stroke="#2a2a2a" stroke-width="1"/>
<line x1="308.3" y1="234.52500000000003" x2="311.3" y2="234.52500000000003" stroke="#2a2a2a" stroke-width="1"/>
<line x1="308.3" y1="224.86" x2="311.3" y2="224.86" stroke="#2a2a2a" stroke-width="1"/>
<line x1="308.3" y1="215.19500000000002" x2="311.3" y2="215.19500000000002" stroke="#2a2a2a" stroke-width="1"/>
<line x1="308.3" y1="205.53000000000003" x2="311.3" y2="205.53000000000003" stroke="#2a2a2a" stroke-width="1"/>
<line x1="308.3" y1="282.85" x2="513.3" y2="282.85" stroke="#2a2a2a" stroke-width="1"/>
<line x1="325.85" y1="282.85" x2="325.85" y2="285.85" stroke="#2a2a2a" stroke-width="1"/>
<line x1="354.72" y1="282.85" x2="354.72" y2="285.85" stroke="#2a2a2a" stroke-width="1"/>
<line x1="383.59000000000003" y1="282.85" x2="383.59000000000003" y2="285.85" stroke="#2a2a2a" stroke-width="1"/>
<line x1="412.46000000000004" y1="282.85" x2="412.46000000000004" y2="285.85" stroke="#2a2a2a" stroke-width="1"/>
<line x1="441.33000000000004" y1="282.85" x2="441.33000000000004" y2="285.85" stroke="#2a2a2a" stroke-width="1"/>
<line x1="470.20000000000005" y1="282.85" x2="470.20000000000005" y2="285.85" stroke="#2a2a2a" stroke-width="1"/>
<line x1="499.07000000000005" y1="282.85" x2="499.07000000000005" y2="285.85" stroke="#2a2a2a" stroke-width="1"/>
<line x1="47.5" y1="347.5" x2="47.5" y2="446.8" stroke="#2a2a2a" stroke-width="1"/>
<line x1="44.5" y1="446.3" x2="47.5" y2="446.3" stroke="#2a2a2a" stroke-width="1"/>
<line x1="44.5" y1="437.58" x2="47.5" y2="437.58" stroke="#2a2a2a" stroke-width="1"/>
<line x1="44.5" y1="428.86" x2="47.5" y2="428.86" stroke="#2a2a2a" stroke-width="1"/>
<line x1="44.5" y1="420.14" x2="47.5" y2="420.14" stroke="#2a2a2a" stroke-width="1"/>
<line x1="44.5" y1="411.42" x2="47.5" y2="411.42" stroke="#2a2a2a" stroke-width="1"/>
<line x1="44.5" y1="402.7" x2="47.5" y2="402.7" stroke="#2a2a2a" stroke-width="1"/>
<line x1="44.5" y1="393.98" x2="47.5" y2="393.98" stroke="#2a2a2a" stroke-width="1"/>
<line x1="44.5" y1="385.26" x2="47.5" y2="385.26" stroke="#2a2a2a" stroke-width="1"/>
<line x1="44.5" y1="376.54" x2="47.5" y2="376.54" stroke="#2a2a2a" stroke-width="1"/>
<line x1="44.5" y1="367.82" x2="47.5" y2="367.82" stroke="#2a2a2a" stroke-width="1"/>
<line x1="44.5" y1="359.1" x2="47.5" y2="359.1" stroke="#2a2a2a" stroke-width="1"/>
<line x1="44.5" y1="350.38" x2="47.5" y2="350.38" stroke="#2a2a2a" stroke-width="1"/>
<line x1="44.5" y1="446.3" x2="255.6" y2="446.3" stroke="#2a2a2a" stroke-width="1"/>
<line x1="81.9" y1="446.3" x2="81.9" y2="449.3" stroke="#2a2a2a" stroke-width="1"/>
<line x1="151.2" y1="446.3" x2="151.2" y2="449.3" stroke="#2a2a2a" stroke-width="1"/>
<line x1="220.5" y1="446.3" x2="220.5" y2="449.3" stroke="#2a2a2a" stroke-width="1"/>
<line x1="311.2" y1="347.3" x2="311.2" y2="446.8" stroke="#2a2a2a" stroke-width="1"/>
<line x1="308.2" y1="446.3" x2="311.2" y2="446.3" stroke="#2a2a2a" stroke-width="1"/>
<line x1="308.2" y1="437.58" x2="311.2" y2="437.58" stroke="#2a2a2a" stroke-width="1"/>
<line x1="308.2" y1="428.86" x2="311.2" y2="428.86" stroke="#2a2a2a" stroke-width="1"/>
<line x1="308.2" y1="420.14" x2="311.2" y2="420.14" stroke="#2a2a2a" stroke-width="1"/>
<line x1="308.2" y1="411.42" x2="311.2" y2="411.42" stroke="#2a2a2a" stroke-width="1"/>
<line x1="308.2" y1="402.7" x2="311.2" y2="402.7" stroke="#2a2a2a" stroke-width="1"/>
<line x1="308.2" y1="393.98" x2="311.2" y2="393.98" stroke="#2a2a2a" stroke-width="1"/>
<line x1="308.2" y1="385.26" x2="311.2" y2="385.26" stroke="#2a2a2a" stroke-width="1"/>
<line x1="308.2" y1="376.54" x2="311.2" y2="376.54" stroke="#2a2a2a" stroke-width="1"/>
<line x1="308.2" y1="367.82" x2="311.2" y2="367.82" stroke="#2a2a2a" stroke-width="1"/>
<line x1="308.2" y1="359.1" x2="311.2" y2="359.1" stroke="#2a2a2a" stroke-width="1"/>
<line x1="308.2" y1="350.38" x2="311.2" y2="350.38" stroke="#2a2a2a" stroke-width="1"/>
<line x1="308.2" y1="446.3" x2="513.8" y2="446.3" stroke="#2a2a2a" stroke-width="1"/>
<line x1="344.4" y1="446.3" x2="344.4" y2="449.3" stroke="#2a2a2a" stroke-width="1"/>
<line x1="412.3" y1="446.3" x2="412.3" y2="449.3" stroke="#2a2a2a" stroke-width="1"/>
<line x1="480.3" y1="446.3" x2="480.3" y2="449.3" stroke="#2a2a2a" stroke-width="1"/>
<rect x="0.5" y="0.5" width="519" height="489" fill="none" stroke="#5e5e5e" stroke-width="1"/>
</svg></div>
</body></html>
